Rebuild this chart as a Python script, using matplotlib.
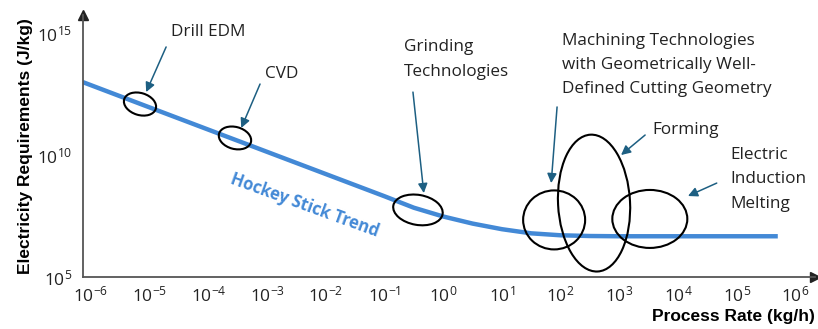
import numpy as np
import matplotlib
matplotlib.use('Agg')
import matplotlib.pyplot as plt
from matplotlib.patches import Ellipse
from matplotlib.transforms import ScaledTranslation
from matplotlib.ticker import FixedLocator, FuncFormatter

# Trend curve, as decade exponents: log10 of process rate (kg/h) and of energy (J/kg)
log_rate = [-6.14, -5, -4, -3, -2, -1, -0.5, 0, 0.5, 1, 1.5, 2, 2.5, 3, 4, 5, 5.7]
log_energy = [12.99, 11.95, 11.04, 10.13, 9.22, 8.31, 7.84, 7.48, 7.19, 6.96, 6.79,
              6.71, 6.68, 6.67, 6.67, 6.67, 6.67]

# Technology regions: centre of each ellipse in the same exponent units
tech_names = ['Drill EDM', 'CVD', 'Grinding\nTechnologies',
              'Machining Technologies\nwith Geometrically Well-\nDefined Cutting Geometry',
              'Forming', 'Electric\nInduction\nMelting']
tech_rate = [-5.165, -3.547, -0.43, 1.89, 2.57, 3.52]
tech_energy = [12.09, 10.70, 7.75, 7.34, 8.03, 7.38]

x_ticks = list(range(-6, 7))
y_ticks = [5, 10, 15]

BLUE = '#4389d6'
ARROW = '#1d5f82'
AXIS = '#555555'

plt.rcParams['font.family'] = ['Open Sans', 'DejaVu Sans']
plt.rcParams['mathtext.default'] = 'regular'

fig = plt.figure(figsize=(8.18, 3.29), dpi=100)
ax = fig.add_axes([83 / 818, 52 / 329, 732 / 818, 262 / 329])
ax.set_xlim(-6.136, 6.334)
ax.set_ylim(5, 15.74)

ax.plot(log_rate, log_energy, color=BLUE, lw=3.2, solid_capstyle='butt', zorder=2)

# ellipse sizes (pixels) and tilt, drawn in screen space around each centre
shapes = [(33, 22, -17), (33, 22, -15), (50, 30, -10), (62, 59, 0), (72, 137, 3), (75, 58, 0)]
for (w, h, a), cx, cy in zip(shapes, tech_rate, tech_energy):
    tr = fig.dpi_scale_trans + ScaledTranslation(cx, cy, ax.transData)
    ax.add_patch(Ellipse((0, 0), w / 100, h / 100, angle=a, transform=tr,
                         fill=False, ec='black', lw=1.5, zorder=3))

# arrows: (tail, head) in exponent units
arrows = [((-4.72, 14.43), (-5.06, 12.58)),
          ((-3.12, 12.91), (-3.44, 11.11)),
          ((-0.515, 12.58), (-0.33, 8.44)),
          ((1.94, 11.97), (1.84, 8.85)),
          ((3.44, 10.82), (3.03, 10.0)),
          ((4.66, 8.85), (4.17, 8.32))]
for tail, head in arrows:
    ax.annotate('', xy=head, xytext=tail,
                arrowprops=dict(arrowstyle='-|>', color=ARROW, lw=1.1,
                                mutation_scale=14, shrinkA=0, shrinkB=0), zorder=4)

# labels (left edge, vertical centre)
label_pos = [(-4.64, 15.04), (-3.04, 13.32), (-0.667, 13.91), (2.02, 13.69),
             (3.56, 11.02), (4.90, 9.0)]
for name, (lx, ly) in zip(tech_names, label_pos):
    ax.text(lx, ly, name, ha='left', va='center', fontsize=12.3, color='#222222',
            linespacing=1.7)

ax.text(-2.354, 7.95, 'Hockey Stick Trend', color=BLUE, fontsize=12, fontweight='bold',
        rotation=-20, ha='center', va='center', rotation_mode='anchor')

# axes: left and bottom lines with arrow heads
for s in ['top', 'right']:
    ax.spines[s].set_visible(False)
for s in ['left', 'bottom']:
    ax.spines[s].set_color(AXIS)
    ax.spines[s].set_linewidth(1.3)
ax.plot([0], [1], marker='^', color='#222222', ms=7, transform=ax.transAxes, clip_on=False)
ax.plot([1], [0], marker='>', color='#222222', ms=7, transform=ax.transAxes, clip_on=False)

fmt = FuncFormatter(lambda v, p: r'$10^{%d}$' % int(round(v)))
ax.xaxis.set_major_locator(FixedLocator(x_ticks))
ax.yaxis.set_major_locator(FixedLocator(y_ticks))
ax.xaxis.set_major_formatter(fmt)
ax.yaxis.set_major_formatter(fmt)
ax.tick_params(length=0, labelsize=12.5, colors='#222222', pad=8)
ax.tick_params(axis='x', pad=6)

ax.set_ylabel('Electricity Requirements (J/kg)', fontsize=12.5, fontweight='bold',
              family=['Liberation Sans', 'DejaVu Sans'])
ax.yaxis.set_label_coords(-0.068, 0.5)
ax.set_xlabel('Process Rate (kg/h)', fontsize=12.5, fontweight='bold',
              family=['Liberation Sans Narrow', 'Liberation Sans', 'DejaVu Sans'])
ax.xaxis.set_label_coords(1.0, -0.15)
ax.xaxis.label.set_ha('right')
ax.xaxis.label.set_va('center')

fig.savefig('out.png', dpi=100)
